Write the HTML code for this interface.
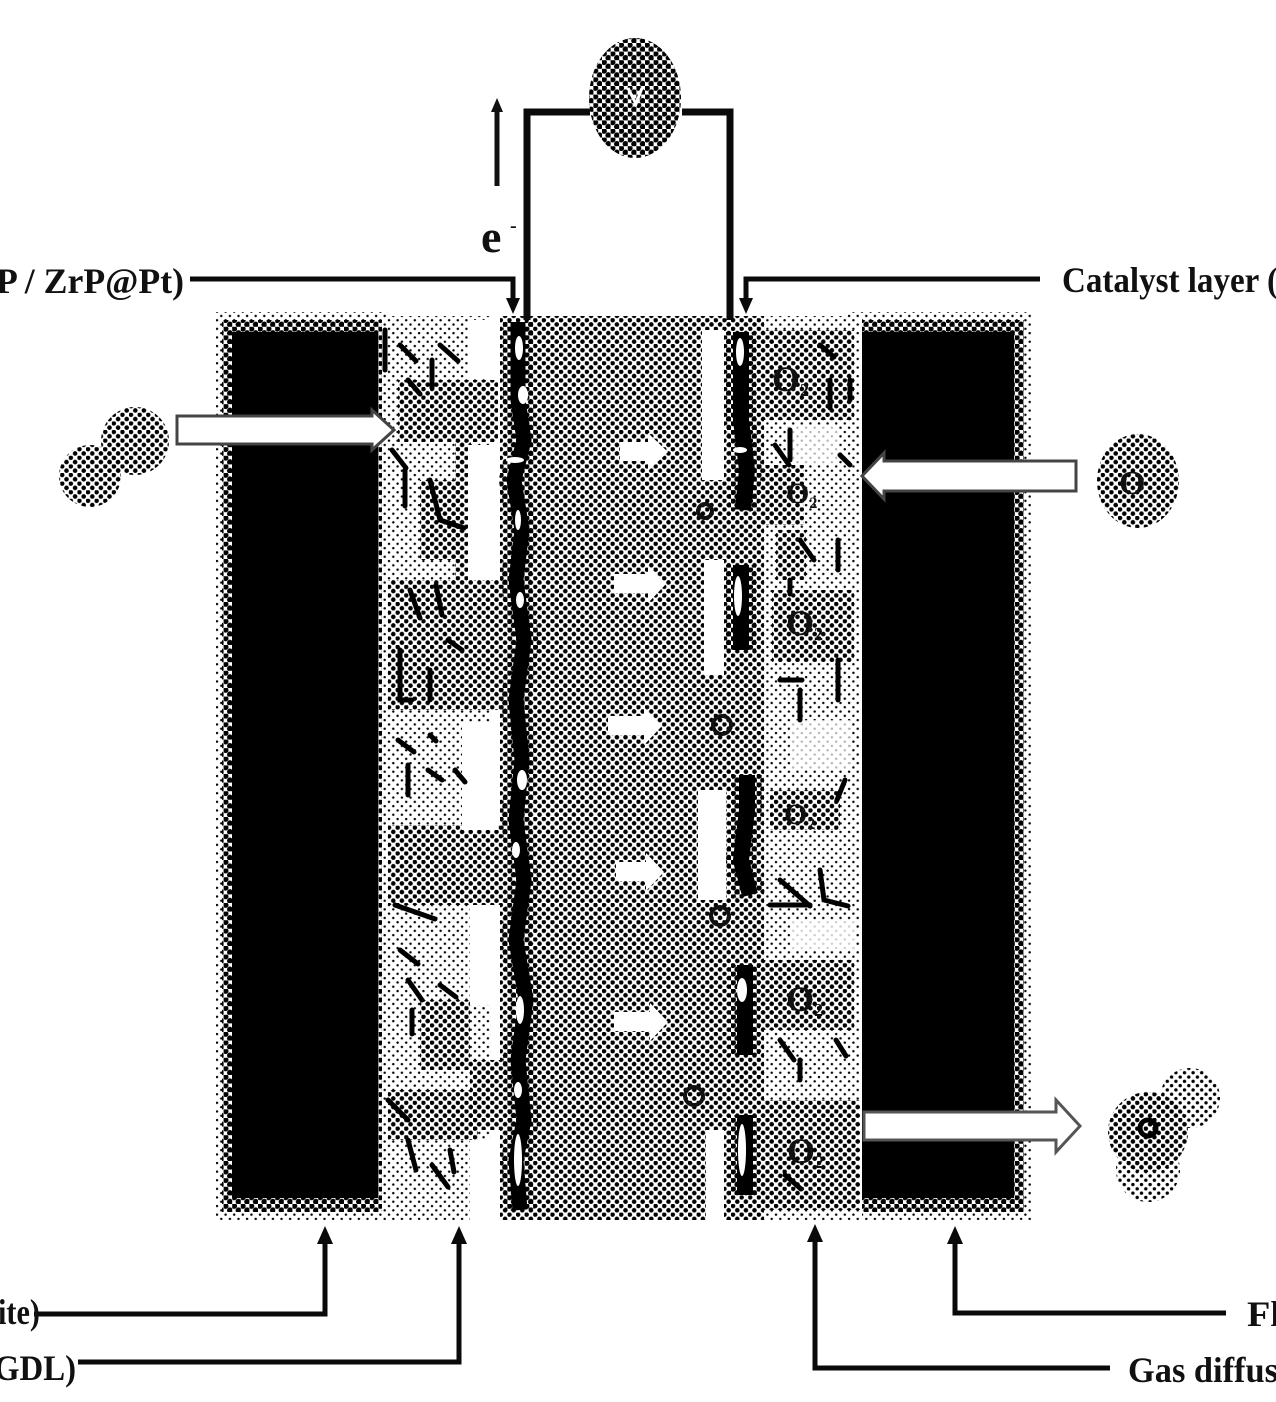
<!DOCTYPE html>
<html><head><meta charset="utf-8"><style>
html,body{margin:0;padding:0;background:#fff;width:1276px;height:1402px;overflow:hidden}
svg{display:block}
text{font-family:"Liberation Serif",serif;font-weight:bold;fill:#111}
</style></head><body>
<svg width="1276" height="1402" viewBox="0 0 1276 1402" xmlns="http://www.w3.org/2000/svg">
<defs>
<pattern id="d" width="8.6" height="8.6" patternUnits="userSpaceOnUse"><circle cx="2" cy="2" r="2.9" fill="#000"/><circle cx="6.3" cy="6.3" r="2.9" fill="#000"/></pattern>
<pattern id="m" width="8.6" height="8.6" patternUnits="userSpaceOnUse"><circle cx="2" cy="2" r="2.3" fill="#000"/><circle cx="6.3" cy="6.3" r="2.3" fill="#000"/></pattern>
<pattern id="l" width="8.6" height="8.6" patternUnits="userSpaceOnUse"><circle cx="2" cy="2" r="1.7" fill="#000"/><circle cx="6.3" cy="6.3" r="1.7" fill="#000"/></pattern>
<pattern id="x" width="8.6" height="8.6" patternUnits="userSpaceOnUse"><circle cx="2" cy="2" r="1.2" fill="#000"/><circle cx="6.3" cy="6.3" r="1.2" fill="#000"/></pattern>
</defs>
<rect width="1276" height="1402" fill="#fff"/>

<!-- halos -->
<rect x="216" y="312" width="172" height="908" fill="url(#x)"/>
<rect x="222" y="320" width="160" height="892" fill="url(#d)"/>
<rect x="848" y="312" width="184" height="908" fill="url(#x)"/>
<rect x="852" y="320" width="172" height="892" fill="url(#d)"/>
<!-- plates -->
<rect x="232" y="332" width="146" height="866" fill="#000"/>
<rect x="862" y="332" width="152" height="866" fill="#000"/>

<!-- left GDL -->
<rect x="385" y="316" width="118" height="904" fill="#fff"/>
<rect x="385" y="316" width="106" height="904" fill="url(#x)"/>
<g fill="url(#m)">
<rect x="398" y="380" width="100" height="62"/><rect x="388" y="580" width="112" height="130"/><rect x="455" y="440" width="16" height="140"/>
<rect x="388" y="825" width="112" height="80"/><rect x="470" y="1060" width="30" height="70"/><rect x="388" y="1090" width="90" height="50"/>
<rect x="420" y="1000" width="50" height="70"/><rect x="420" y="480" width="40" height="80"/>
</g>
<g fill="#fff"><rect x="468" y="445" width="26" height="135"/><rect x="462" y="722" width="36" height="108"/><rect x="470" y="905" width="24" height="100"/><rect x="470" y="1140" width="24" height="80"/><rect x="468" y="320" width="24" height="58"/></g>
<g stroke="#000" stroke-width="5" fill="none" stroke-linecap="round">
<path d="M400 345l16 16M440 345l18 16M432 360v28M408 380l12 14M385 330v40M392 450l14 18M405 470v36M430 480l10 40 24 8M410 590l10 28M436 585l6 30M448 640l14 10M400 650v50l12 0M430 670v30M398 740l16 12M408 765v30M430 735l6 6M428 770l14 10M455 770l10 12M395 905l40 14M400 950l18 14M408 980l14 20M440 985l16 12M412 1010v24M388 1100l20 20M408 1140l8 30M432 1165l16 22M450 1150l4 22"/>
</g>

<!-- membrane -->
<rect x="500" y="316" width="266" height="904" fill="#fff"/>
<rect x="500" y="316" width="266" height="904" fill="url(#m)"/>
<rect x="590" y="400" width="110" height="200" fill="url(#l)" opacity=".5"/>
<g fill="#fff">
<rect x="702" y="330" width="22" height="150"/><rect x="704" y="560" width="20" height="115"/><rect x="698" y="790" width="28" height="110"/><rect x="706" y="1130" width="18" height="90"/>
</g>

<!-- right GDL -->
<rect x="764" y="316" width="98" height="904" fill="#fff"/>
<rect x="764" y="316" width="96" height="904" fill="url(#x)"/>
<g fill="url(#m)">
<rect x="764" y="330" width="90" height="90"/><rect x="764" y="465" width="40" height="60"/><rect x="772" y="590" width="82" height="72"/>
<rect x="770" y="790" width="70" height="40"/><rect x="764" y="960" width="90" height="70"/><rect x="764" y="1100" width="96" height="110"/>
<rect x="776" y="530" width="30" height="50"/>
</g>
<g fill="#fff"><rect x="788" y="425" width="50" height="40" opacity=".7"/><rect x="790" y="720" width="60" height="50" opacity=".7"/><rect x="790" y="920" width="65" height="30" opacity=".8"/></g>
<g stroke="#000" stroke-width="5" fill="none" stroke-linecap="round">
<path d="M820 345l14 12M830 380v28M850 380v20M775 445l14 20M790 430v30M840 455l10 10M800 540l14 20M838 540v30M790 580v14M800 690v30M780 680h22M838 660v40M845 780l-8 20M780 880l30 26M820 870l4 30 24 6M770 905h40M780 1040l14 20M836 1040l10 16M800 1060v20M785 1175l16 14"/>
</g>

<!-- catalyst chains -->
<g fill="none" stroke-linecap="butt" stroke-linejoin="round">
<path id="c1" d="M518 322V400L524 440 514 480 522 530 516 580 524 640 516 700 522 760 516 820 524 880 516 940 526 1000 518 1060 524 1120 516 1160 520 1210" stroke="url(#d)" stroke-width="30"/>
<path d="M518 322V400L524 440 514 480 522 530 516 580 524 640 516 700 522 760 516 820 524 880 516 940 526 1000 518 1060 524 1120 516 1160 520 1210" stroke="#000" stroke-width="15"/>
<g stroke="url(#d)" stroke-width="30">
<path d="M741 332V420L747 470 743 510"/><path d="M741 565V650"/><path d="M747 775V810L741 860 750 895"/><path d="M745 965V1055"/><path d="M745 1115V1195"/>
</g>
<g stroke="#000" stroke-width="16">
<path d="M741 332V420L747 470 743 510"/><path d="M741 565V650"/><path d="M747 775V810L741 860 750 895"/><path d="M745 965V1055"/><path d="M745 1115V1195"/>
</g>
</g>
<g fill="#fff">
<ellipse cx="519" cy="348" rx="4" ry="12"/><ellipse cx="523" cy="395" rx="5" ry="9"/><ellipse cx="515" cy="460" rx="9" ry="3"/><ellipse cx="518" cy="520" rx="3" ry="10"/><ellipse cx="520" cy="600" rx="4" ry="8"/><ellipse cx="522" cy="780" rx="5" ry="10"/><ellipse cx="516" cy="850" rx="4" ry="8"/><ellipse cx="520" cy="1010" rx="4" ry="14"/><ellipse cx="518" cy="1090" rx="4" ry="8"/><ellipse cx="518" cy="1160" rx="4" ry="26"/>
<ellipse cx="740" cy="352" rx="4" ry="14"/><ellipse cx="740" cy="450" rx="7" ry="3"/><ellipse cx="738" cy="596" rx="4" ry="20"/><ellipse cx="742" cy="990" rx="5" ry="12"/><ellipse cx="742" cy="1150" rx="4" ry="26"/>
</g>

<!-- membrane arrows -->
<g fill="#fff">
<path d="M620 442h28v-9l20 19-20 19v-10h-28z"/>
<path d="M614 574h34v-9l18 19-18 19v-10h-34z"/>
<path d="M608 716h36v-9l18 19-18 19v-10h-36z"/>
<path d="M616 862h30v-9l18 19-18 19v-10h-30z"/>
<path d="M614 1012h36v-9l18 19-18 19v-10h-36z"/>
</g>
<!-- rings -->
<g fill="none" stroke="#111" stroke-width="4">
<circle cx="705" cy="511" r="7"/><circle cx="722" cy="725" r="9"/><circle cx="720" cy="916" r="9"/><circle cx="694" cy="1096" r="9"/>
</g>
<!-- O2 -->
<g font-size="36">
<text x="772" y="391">O<tspan font-size="18" dy="5">2</tspan></text>
<text x="786" y="503" font-size="30">O<tspan font-size="16" dy="5">2</tspan></text>
<text x="786" y="635">O<tspan font-size="18" dy="5">2</tspan></text>
<text x="784" y="824" font-size="30">O<tspan font-size="16" dy="5">2</tspan></text>
<text x="786" y="1011">O<tspan font-size="18" dy="5">2</tspan></text>
<text x="787" y="1163">O<tspan font-size="18" dy="5">2</tspan></text>
</g>

<!-- big arrows -->
<path d="M177 416H372v-6l22 20-22 20v-6H177z" fill="#fff" stroke="#444" stroke-width="3"/>
<path d="M1076 461H884v-8l-22 23 22 23v-8h192z" fill="#fff" stroke="#444" stroke-width="3"/>
<path d="M864 1112H1056v-12l24 26-24 26v-12H864z" fill="#fff" stroke="#555" stroke-width="3"/>

<!-- molecules -->
<circle cx="90" cy="476" r="31" fill="url(#m)"/>
<circle cx="135" cy="441" r="34" fill="url(#m)"/>
<ellipse cx="1138" cy="481" rx="41" ry="47" fill="url(#m)"/>
<text x="1119" y="494" font-size="34">O</text>
<circle cx="1148" cy="1132" r="40" fill="url(#m)"/>
<circle cx="1190" cy="1098" r="30" fill="url(#l)"/>
<circle cx="1148" cy="1170" r="32" fill="url(#l)"/>
<circle cx="1148" cy="1128" r="8" fill="none" stroke="#000" stroke-width="5"/>

<!-- voltmeter and wires -->
<g fill="none" stroke="#0a0a0a" stroke-width="7">
<path d="M527 320V112H590"/><path d="M682 112H730V320"/>
</g>
<ellipse cx="635" cy="98" rx="46" ry="60" fill="#fff"/>
<ellipse cx="635" cy="98" rx="46" ry="60" fill="url(#d)"/>
<path d="M628 88l8 16 6-16" stroke="#fff" stroke-width="3" fill="none"/>
<path d="M497 186V104" stroke="#111" stroke-width="5"/><path d="M497 98l-6 14h12z" fill="#111"/>
<text x="481" y="252" font-size="46">e</text><text x="510" y="232" font-size="20">-</text>

<!-- leaders -->
<g fill="none" stroke="#0a0a0a" stroke-width="5">
<path d="M190 279H513V300"/>
<path d="M1040 279H746V300"/>
<path d="M34 1314H325V1244"/>
<path d="M78 1362H459V1240"/>
<path d="M1110 1368H815V1240"/>
<path d="M1226 1313H955V1240"/>
</g>
<g fill="#0a0a0a">
<path d="M513 314l-7-16h14z"/><path d="M746 314l-7-16h14z"/>
<path d="M325 1226l-8 18h16z"/><path d="M459 1226l-8 18h16z"/><path d="M815 1224l-8 18h16z"/><path d="M955 1226l-8 18h16z"/>
</g>

<!-- labels -->
<g font-size="36">
<text x="-4" y="293" textLength="188" lengthAdjust="spacingAndGlyphs">P / ZrP@Pt)</text>
<text x="1062" y="292" textLength="216" lengthAdjust="spacingAndGlyphs">Catalyst layer (</text>
<text x="-2" y="1324" textLength="42" lengthAdjust="spacingAndGlyphs">ite)</text>
<text x="-6" y="1380" textLength="82" lengthAdjust="spacingAndGlyphs">GDL)</text>
<text x="1247" y="1326" textLength="34" lengthAdjust="spacingAndGlyphs">Fl</text>
<text x="1128" y="1382" textLength="150" lengthAdjust="spacingAndGlyphs">Gas diffus</text>
</g>
</svg>
</body></html>
